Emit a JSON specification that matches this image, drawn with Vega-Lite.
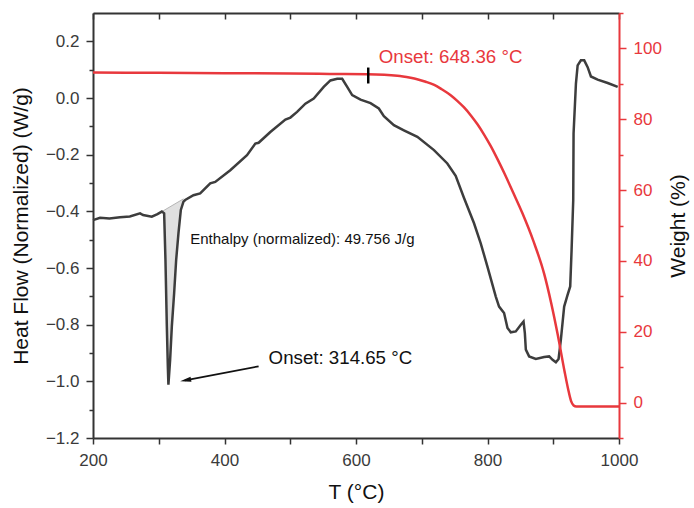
{
  "$schema": "https://vega.github.io/schema/vega-lite/v6.json",
  "width": 526,
  "height": 425,
  "autosize": {"type": "none"},
  "padding": {"left": 93, "top": 13, "right": 75, "bottom": 70},
  "background": "white",
  "config": {
    "font": "Liberation Sans",
    "view": {"stroke": null},
    "axis": {
      "grid": false,
      "labelFont": "Liberation Sans",
      "labelFontSize": 17,
      "labelColor": "#3a3a3a",
      "titleFont": "Liberation Sans",
      "titleFontSize": 21,
      "titleFontWeight": "normal",
      "titleColor": "#111111",
      "domainColor": "#333333",
      "domainWidth": 2,
      "tickColor": "#333333",
      "tickWidth": 1.5,
      "labelOverlap": false,
      "labelFlush": false
    }
  },
  "datasets": {
    "dsc": [
      {"T": 200, "hf": -0.431}, {"T": 210.7, "hf": -0.423}, {"T": 225, "hf": -0.425}, {"T": 241.1, "hf": -0.421},
      {"T": 256, "hf": -0.418}, {"T": 271.6, "hf": -0.407}, {"T": 276.2, "hf": -0.413}, {"T": 289.4, "hf": -0.419},
      {"T": 298, "hf": -0.41}, {"T": 304.7, "hf": -0.401}, {"T": 308.2, "hf": -0.407}, {"T": 310.2, "hf": -0.571},
      {"T": 312.3, "hf": -0.806}, {"T": 313.8, "hf": -0.947}, {"T": 314.7, "hf": -1.012}, {"T": 317.3, "hf": -0.924},
      {"T": 319.9, "hf": -0.806}, {"T": 323.4, "hf": -0.689}, {"T": 326.5, "hf": -0.571}, {"T": 330.0, "hf": -0.477},
      {"T": 333.6, "hf": -0.395}, {"T": 337.6, "hf": -0.366}, {"T": 340.2, "hf": -0.36}, {"T": 352.8, "hf": -0.343},
      {"T": 363.0, "hf": -0.337}, {"T": 378.3, "hf": -0.301}, {"T": 385.9, "hf": -0.296}, {"T": 408.8, "hf": -0.255},
      {"T": 434.2, "hf": -0.202}, {"T": 446.9, "hf": -0.161}, {"T": 451.9, "hf": -0.158}, {"T": 469.7, "hf": -0.12},
      {"T": 492.6, "hf": -0.076}, {"T": 500.2, "hf": -0.069}, {"T": 510.4, "hf": -0.049}, {"T": 523.0, "hf": -0.02},
      {"T": 535.7, "hf": -0.002}, {"T": 550.9, "hf": 0.039}, {"T": 561.1, "hf": 0.062}, {"T": 571.4, "hf": 0.068},
      {"T": 579.0, "hf": 0.068}, {"T": 586.6, "hf": 0.039}, {"T": 594.2, "hf": 0.01}, {"T": 606.9, "hf": -0.006},
      {"T": 622.1, "hf": -0.018}, {"T": 634.7, "hf": -0.037}, {"T": 642.4, "hf": -0.064}, {"T": 657.6, "hf": -0.096},
      {"T": 672.8, "hf": -0.114}, {"T": 693.3, "hf": -0.137}, {"T": 718.6, "hf": -0.184}, {"T": 738.9, "hf": -0.231},
      {"T": 751.6, "hf": -0.275}, {"T": 764.3, "hf": -0.353}, {"T": 779.5, "hf": -0.442}, {"T": 789.7, "hf": -0.513},
      {"T": 799.9, "hf": -0.595}, {"T": 812.6, "hf": -0.701}, {"T": 817.6, "hf": -0.736}, {"T": 825.2, "hf": -0.759},
      {"T": 830.4, "hf": -0.812}, {"T": 835.4, "hf": -0.827}, {"T": 843.0, "hf": -0.824}, {"T": 850.7, "hf": -0.8},
      {"T": 854.8, "hf": -0.789}, {"T": 856.8, "hf": -0.83}, {"T": 858.3, "hf": -0.888}, {"T": 863.3, "hf": -0.912},
      {"T": 873.5, "hf": -0.921}, {"T": 886.2, "hf": -0.914}, {"T": 893.8, "hf": -0.912}, {"T": 899.0, "hf": -0.924},
      {"T": 904.0, "hf": -0.933}, {"T": 908.1, "hf": -0.921}, {"T": 911.6, "hf": -0.853}, {"T": 916.6, "hf": -0.736},
      {"T": 921.8, "hf": -0.695}, {"T": 925.8, "hf": -0.665}, {"T": 927.9, "hf": -0.536}, {"T": 930.4, "hf": -0.36},
      {"T": 930.9, "hf": -0.125}, {"T": 934.5, "hf": 0.051}, {"T": 937.1, "hf": 0.115}, {"T": 942.1, "hf": 0.133},
      {"T": 947.1, "hf": 0.133}, {"T": 952.3, "hf": 0.109}, {"T": 957.3, "hf": 0.076}, {"T": 967.5, "hf": 0.065},
      {"T": 982.8, "hf": 0.053}, {"T": 998.0, "hf": 0.039}
    ],
    "peak": [
      {"T": 304.7, "hf": -0.401, "base": -0.401}, {"T": 308.2, "hf": -0.407, "base": -0.396},
      {"T": 310.2, "hf": -0.571, "base": -0.3935}, {"T": 312.3, "hf": -0.806, "base": -0.3907},
      {"T": 313.8, "hf": -0.947, "base": -0.3886}, {"T": 314.7, "hf": -1.012, "base": -0.3874},
      {"T": 317.3, "hf": -0.924, "base": -0.3838}, {"T": 319.9, "hf": -0.806, "base": -0.3802},
      {"T": 323.4, "hf": -0.689, "base": -0.3754}, {"T": 326.5, "hf": -0.571, "base": -0.3712},
      {"T": 330.0, "hf": -0.477, "base": -0.3664}, {"T": 333.6, "hf": -0.395, "base": -0.3615},
      {"T": 337.6, "hf": -0.36, "base": -0.356}
    ],
    "baseline": [{"T": 304.7, "hf": -0.401, "T2": 337.6, "hf2": -0.356}],
    "arrow": [{"T": 451.9, "hf": -0.947, "T2": 340.0, "hf2": -0.997}],
    "head": [{"T": 332.6, "hf": -1.0}],
    "onset1": [{"T": 467.1, "hf": -0.917, "label": "Onset: 314.65 °C"}],
    "enthalpy": [{"T": 347.8, "hf": -0.4975, "label": "Enthalpy (normalized): 49.756 J/g"}],
    "tga": [
      {"T": 200, "w": 93.2}, {"T": 300, "w": 93.1}, {"T": 400, "w": 93.0}, {"T": 500, "w": 92.9},
      {"T": 560, "w": 92.8}, {"T": 617, "w": 92.7}, {"T": 663, "w": 92.3}, {"T": 683, "w": 91.7},
      {"T": 693, "w": 91.3}, {"T": 706, "w": 90.6}, {"T": 719, "w": 89.7}, {"T": 731, "w": 88.4},
      {"T": 744, "w": 86.8}, {"T": 754, "w": 85.2}, {"T": 764, "w": 83.4}, {"T": 775, "w": 81.0},
      {"T": 785, "w": 78.5}, {"T": 795, "w": 75.6}, {"T": 805, "w": 72.4}, {"T": 815, "w": 68.8},
      {"T": 826, "w": 64.6}, {"T": 839, "w": 59.3}, {"T": 853, "w": 53.5}, {"T": 870, "w": 45.5},
      {"T": 886, "w": 36.5}, {"T": 897, "w": 28.0}, {"T": 907, "w": 19.0}, {"T": 917, "w": 9.0},
      {"T": 923, "w": 3.5}, {"T": 927, "w": 0.5}, {"T": 931, "w": -0.8}, {"T": 935, "w": -1.1},
      {"T": 1000, "w": -1.1}
    ],
    "marker": [{"T": 618.6, "w": 94.6, "w2": 90.1}],
    "onset2": [{"T": 634.7, "w": 97.7, "label": "Onset: 648.36 °C"}]
  },
  "layer": [
    {
      "encoding": {
        "x": {
          "field": "T", "type": "quantitative",
          "scale": {"domain": [200, 1000], "nice": false, "zero": false},
          "axis": {
            "orient": "bottom",
            "title": "T (°C)",
            "values": [200, 300, 400, 500, 600, 700, 800, 900, 1000],
            "format": "d",
            "labelExpr": "datum.value % 200 === 0 ? datum.label : ''",
            "tickSize": 6,
            "labelPadding": 8,
            "titlePadding": 13
          }
        },
        "y": {
          "field": "hf", "type": "quantitative",
          "scale": {"domain": [-1.2, 0.3], "nice": false, "zero": false},
          "axis": {
            "orient": "left",
            "title": "Heat Flow (Normalized) (W/g)",
            "values": [-1.2, -1.1, -1.0, -0.9, -0.8, -0.7, -0.6, -0.5, -0.4, -0.3, -0.2, -0.1, 0.0, 0.1, 0.2],
            "format": ".1f",
            "labelExpr": "abs(round(datum.value * 10)) % 2 === 0 ? datum.label : ''",
            "tickSize": {"condition": {"test": "abs(round(datum.value * 10)) % 2 === 0", "value": 7}, "value": 4},
            "labelPadding": 7,
            "titlePadding": 14
          }
        }
      },
      "layer": [
        {"data": {"name": "peak"}, "mark": {"type": "area", "color": "#e0e0e0", "opacity": 1}, "encoding": {"y2": {"field": "base"}}},
        {"data": {"name": "baseline"}, "mark": {"type": "rule", "color": "#b5b5b5", "strokeWidth": 1}, "encoding": {"x2": {"field": "T2"}, "y2": {"field": "hf2"}}},
        {"data": {"name": "dsc"}, "mark": {"type": "line", "color": "#3d3d3d", "strokeWidth": 2.5}},
        {"data": {"name": "arrow"}, "mark": {"type": "rule", "color": "#111111", "strokeWidth": 1.8}, "encoding": {"x2": {"field": "T2"}, "y2": {"field": "hf2"}}},
        {"data": {"name": "head"}, "mark": {"type": "point", "shape": "M0,0 L0.5,2.2 L-0.5,2.2 Z", "filled": true, "color": "#111111", "opacity": 1, "size": 100, "angle": 259}},
        {"data": {"name": "onset1"}, "mark": {"type": "text", "align": "left", "baseline": "middle", "fontSize": 18.7, "color": "#111111"}, "encoding": {"text": {"field": "label"}}},
        {"data": {"name": "enthalpy"}, "mark": {"type": "text", "align": "left", "baseline": "middle", "fontSize": 15, "color": "#111111"}, "encoding": {"text": {"field": "label"}}}
      ]
    },
    {
      "encoding": {
        "x": {
          "field": "T", "type": "quantitative",
          "scale": {"domain": [200, 1000], "nice": false, "zero": false},
          "axis": {
            "orient": "top",
            "title": null,
            "labels": false,
            "values": [200, 300, 400, 500, 600, 700, 800, 900, 1000],
            "tickSize": -6
          }
        },
        "y": {
          "field": "w", "type": "quantitative",
          "scale": {"domain": [-10, 110], "nice": false, "zero": false},
          "axis": {
            "orient": "right",
            "title": "Weight (%)",
            "titleAngle": -90,
            "titleBaseline": "top",
            "values": [-10, 0, 10, 20, 30, 40, 50, 60, 70, 80, 90, 100, 110],
            "labelExpr": "datum.value % 20 === 0 ? datum.label : ''",
            "tickSize": {"condition": {"test": "datum.value % 20 === 0", "value": 7}, "value": 4},
            "labelColor": "#e8383d",
            "tickColor": "#e8383d",
            "domainColor": "#e8383d",
            "labelPadding": 7,
            "titlePadding": 6
          }
        }
      },
      "layer": [
        {"data": {"name": "tga"}, "mark": {"type": "line", "color": "#e8383d", "strokeWidth": 2.5, "interpolate": "monotone"}},
        {"data": {"name": "marker"}, "mark": {"type": "rule", "color": "#000000", "strokeWidth": 2.5}, "encoding": {"y2": {"field": "w2"}}},
        {"data": {"name": "onset2"}, "mark": {"type": "text", "align": "left", "baseline": "middle", "fontSize": 18.7, "color": "#e8383d"}, "encoding": {"text": {"field": "label"}}}
      ]
    }
  ],
  "resolve": {"scale": {"y": "independent"}, "axis": {"x": "independent"}}
}
